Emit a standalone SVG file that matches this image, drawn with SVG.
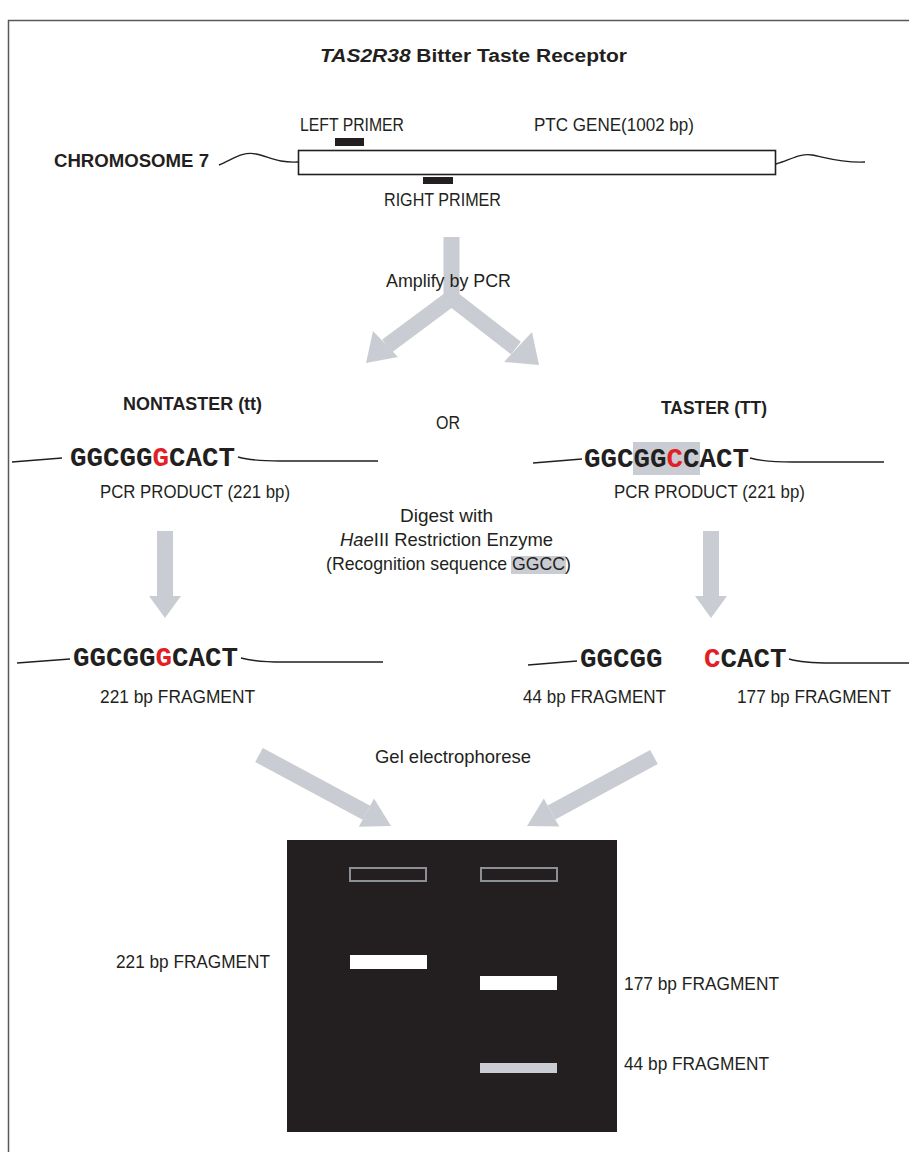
<svg xmlns="http://www.w3.org/2000/svg" width="909" height="1152" viewBox="0 0 909 1152">
<style>
.t{font-family:"Liberation Sans",Arial,sans-serif;font-size:19px;fill:#231f20}
.b{font-weight:bold;font-size:18px}
.seq{font-family:"Liberation Mono","Courier New",monospace;font-size:27.5px;font-weight:bold;fill:#231f20}
.red{fill:#e31e24}
.dna{fill:none;stroke:#231f20;stroke-width:1.4}
.arr{fill:#c9ccd2}
.shaft{fill:none;stroke:#c9ccd2;stroke-width:16}
</style>
<rect width="909" height="1152" fill="#fff"/>
<path d="M909 20.5H8.5V1152" fill="none" stroke="#58595b" stroke-width="1.5"/>

<g id="title">
<text class="t b" x="320" y="62" font-size="20.5" textLength="307" lengthAdjust="spacingAndGlyphs"><tspan font-style="italic">TAS2R38</tspan> Bitter Taste Receptor</text>
</g>

<g id="chromosome">
<text class="t b" x="54" y="167" textLength="155" lengthAdjust="spacingAndGlyphs">CHROMOSOME 7</text>
<path class="dna" d="M219 165C232 160 242 151 256 154S278 163 298 162"/>
<rect x="298.5" y="150.5" width="477" height="24" fill="#fff" stroke="#231f20" stroke-width="1.6"/>
<path class="dna" d="M776 164C790 160 800 153 812 155S840 163 865 162"/>
<rect x="335" y="138" width="29" height="8" fill="#231f20"/>
<rect x="423" y="177" width="30" height="7" fill="#231f20"/>
<text class="t" x="300" y="131" textLength="104" lengthAdjust="spacingAndGlyphs">LEFT PRIMER</text>
<text class="t" x="534" y="131" textLength="160" lengthAdjust="spacingAndGlyphs">PTC GENE(1002 bp)</text>
<text class="t" x="384" y="206" textLength="117" lengthAdjust="spacingAndGlyphs">RIGHT PRIMER</text>
</g>

<g id="connectors">
<path class="shaft" d="M451.5 237V300"/>
<path class="shaft" d="M387 346L451.5 298L516 348" stroke-linejoin="miter"/>
<polygon class="arr" points="366,363 398,357 373,331"/>
<polygon class="arr" points="539,365 504,362 532,332"/>
<rect class="arr" x="157" y="531" width="16" height="66"/>
<polygon class="arr" points="149,596 181,596 165,618"/>
<rect class="arr" x="703" y="531" width="16" height="66"/>
<polygon class="arr" points="695,596 727,596 711,618"/>
<path class="shaft" d="M259 755L366.4 812.7"/>
<polygon class="arr" points="391,826 358.8,826.8 374,798.6"/>
<path class="shaft" d="M654 757L551.5 812.5"/>
<polygon class="arr" points="527,826 559.2,826.5 543.8,798.5"/>
</g>

<g id="step-labels">
<text class="t" x="386" y="287" textLength="125" lengthAdjust="spacingAndGlyphs">Amplify by PCR</text>
<text class="t" x="436" y="429" textLength="24" lengthAdjust="spacingAndGlyphs">OR</text>
<text class="t" x="400" y="522" textLength="93" lengthAdjust="spacingAndGlyphs">Digest with</text>
<text class="t" x="340" y="546" textLength="213" lengthAdjust="spacingAndGlyphs"><tspan font-style="italic">Hae</tspan>III Restriction Enzyme</text>
<rect x="511" y="556" width="55" height="18" fill="#c9ccd2"/>
<text class="t" x="326" y="570" textLength="245" lengthAdjust="spacingAndGlyphs">(Recognition sequence GGCC)</text>
<text class="t" x="375" y="763" textLength="156" lengthAdjust="spacingAndGlyphs">Gel electrophorese</text>
</g>

<g id="nontaster">
<text class="t b" x="123" y="410" textLength="139" lengthAdjust="spacingAndGlyphs">NONTASTER (tt)</text>
<path class="dna" d="M12 462L62 458"/>
<text class="seq" x="70" y="466">GGCGG<tspan class="red">G</tspan>CACT</text>
<path class="dna" d="M238 457Q252 461 280 461L378 461"/>
<text class="t" x="100" y="498" textLength="190" lengthAdjust="spacingAndGlyphs">PCR PRODUCT (221 bp)</text>
</g>

<g id="taster">
<text class="t b" x="661" y="414" textLength="106" lengthAdjust="spacingAndGlyphs">TASTER (TT)</text>
<rect x="633" y="442" width="67" height="33" fill="#c9ccd2"/>
<path class="dna" d="M533 463L582 459"/>
<text class="seq" x="584" y="467">GGCGG<tspan class="red">C</tspan>CACT</text>
<path class="dna" d="M750 458Q764 462 792 462L884 462"/>
<text class="t" x="614" y="498" textLength="191" lengthAdjust="spacingAndGlyphs">PCR PRODUCT (221 bp)</text>
</g>

<g id="nontaster-digest">
<path class="dna" d="M17 663L70 659"/>
<text class="seq" x="73" y="666">GGCGG<tspan class="red">G</tspan>CACT</text>
<path class="dna" d="M241 658Q255 662 283 662L383 662"/>
<text class="t" x="100" y="703" textLength="155" lengthAdjust="spacingAndGlyphs">221 bp FRAGMENT</text>
</g>

<g id="taster-digest">
<path class="dna" d="M528 665L577 661"/>
<text class="seq" x="580" y="667">GGCGG</text>
<text class="seq" x="704" y="667"><tspan class="red">C</tspan>CACT</text>
<path class="dna" d="M789 659Q803 663 831 663L909 663"/>
<text class="t" x="523" y="703" textLength="143" lengthAdjust="spacingAndGlyphs">44 bp FRAGMENT</text>
<text class="t" x="737" y="703" textLength="154" lengthAdjust="spacingAndGlyphs">177 bp FRAGMENT</text>
</g>

<g id="gel">
<rect x="287" y="840" width="330" height="292" fill="#231f20"/>
<rect x="350" y="868" width="76" height="13" fill="none" stroke="#8c8f93" stroke-width="2"/>
<rect x="481" y="868" width="76" height="13" fill="none" stroke="#8c8f93" stroke-width="2"/>
<rect x="350" y="955" width="77" height="14" fill="#fff"/>
<rect x="480" y="976" width="77" height="14" fill="#fff"/>
<rect x="480" y="1063" width="77" height="10" fill="#c9ccd2"/>
<text class="t" x="116" y="968" textLength="154" lengthAdjust="spacingAndGlyphs">221 bp FRAGMENT</text>
<text class="t" x="624" y="990" textLength="155" lengthAdjust="spacingAndGlyphs">177 bp FRAGMENT</text>
<text class="t" x="624" y="1070" textLength="145" lengthAdjust="spacingAndGlyphs">44 bp FRAGMENT</text>
</g>
</svg>
